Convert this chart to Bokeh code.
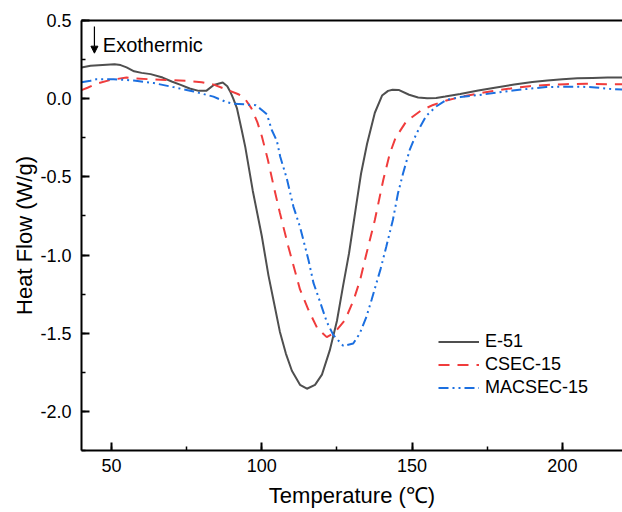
from bokeh.plotting import figure
from bokeh.models import (Range1d, LinearAxis, FixedTicker, SingleIntervalTicker,
                          PrintfTickFormatter, Legend, LegendItem, Arrow, NormalHead, Label)
from bokeh.embed import file_html
from bokeh.resources import INLINE

# ---------------- data ----------------
e51_x = [40, 43, 47, 51, 53, 55, 57.5, 60, 63, 67, 70, 73, 76, 79, 81.5, 84, 87, 88.5, 89.5,
         90.5, 91.7, 93.3, 94.5, 97, 100, 102.2, 104, 106, 108, 110, 112.7, 115, 117.7, 120,
         122.6, 125, 127, 129, 131.5, 133, 135, 137.6, 140, 142, 143.5, 145.5, 149, 152, 155,
         158, 161, 166, 172, 178, 184, 190, 195, 200, 205, 210, 215, 220]
e51_y = [0.20, 0.21, 0.215, 0.22, 0.215, 0.20, 0.175, 0.165, 0.157, 0.135, 0.11, 0.088, 0.065,
         0.05, 0.05, 0.088, 0.103, 0.08, 0.045, 0.0, -0.06, -0.2, -0.31, -0.59, -0.88, -1.13,
         -1.30, -1.49, -1.63, -1.74, -1.83, -1.855, -1.83, -1.765, -1.61, -1.42, -1.20, -0.99,
         -0.67, -0.48, -0.29, -0.09, 0.02, 0.05, 0.057, 0.056, 0.025, 0.008, 0.003, 0.005,
         0.014, 0.03, 0.052, 0.072, 0.09, 0.106, 0.117, 0.125, 0.13, 0.133, 0.135, 0.135]

csec_x = [40, 42, 45, 49.6, 55, 58, 62, 68, 75, 80, 84, 88, 92, 94, 96.5, 98.5, 100, 102, 104,
          106, 108.8, 111, 112.7, 115.5, 118.5, 121.6, 124, 127.7, 130.5, 132.7, 134.7, 137.6,
          140.4, 142.6, 144.5, 148, 153, 157, 161.4, 167, 172.4, 178, 183.5, 189, 194.7, 201,
          208, 215, 220]
csec_y = [0.055, 0.07, 0.095, 0.12, 0.135, 0.13, 0.125, 0.12, 0.114, 0.105, 0.09, 0.06, 0.03,
          0.01, -0.06, -0.15, -0.24, -0.39, -0.565, -0.73, -0.945, -1.10, -1.22, -1.35, -1.47,
          -1.525, -1.50, -1.415, -1.29, -1.16, -1.0, -0.776, -0.52, -0.35, -0.25, -0.147,
          -0.075, -0.04, -0.012, 0.015, 0.035, 0.052, 0.067, 0.08, 0.088, 0.093, 0.095, 0.093,
          0.092]

mac_x = [40, 43, 45, 50.7, 57.4, 64, 70.6, 77.3, 83.9, 88, 90.6, 94, 98, 100.5, 101.7, 103.3,
         105, 106.1, 108.3, 110.5, 112.7, 115.5, 117.2, 118.8, 121.6, 123.8, 127.1, 130.4,
         132.6, 134.8, 136.5, 138.1, 139.5, 141.4, 143.6, 145.3, 147, 149.2, 151.4, 154.7, 158,
         161.4, 166, 172.4, 178, 183.5, 189, 194.6, 200, 205.6, 211, 215.6, 220]
mac_y = [0.105, 0.115, 0.125, 0.125, 0.116, 0.10, 0.074, 0.046, 0.013, -0.02, -0.033, -0.036,
         -0.042, -0.08, -0.1, -0.2, -0.27, -0.37, -0.51, -0.69, -0.82, -1.03, -1.18, -1.267,
         -1.427, -1.512, -1.581, -1.566, -1.501, -1.395, -1.288, -1.181, -1.09, -0.947, -0.776,
         -0.605, -0.477, -0.328, -0.225, -0.11, -0.05, -0.008, 0.01, 0.024, 0.038, 0.052,
         0.064, 0.074, 0.077, 0.077, 0.072, 0.063, 0.058]

series_names = ["E-51", "CSEC-15", "MACSEC-15"]
x_title = "Temperature (\u2103)"
y_title = "Heat Flow (W/g)"
note_text = "Exothermic"

FONT = "Liberation Sans"

p = figure(width=622, height=512, output_backend="svg", toolbar_location=None,
           x_range=Range1d(40, 220), y_range=Range1d(-2.25, 0.5),
           min_border_left=81, min_border_top=20, min_border_bottom=62, min_border_right=0)
p.outline_line_color = None
p.xgrid.visible = False
p.ygrid.visible = False
p.background_fill_color = "white"

r1 = p.line(e51_x, e51_y, line_color="#4f4f4f", line_width=2)
r2 = p.line(csec_x, csec_y, line_color="#f03c3c", line_width=2, line_dash="11 8")
r3 = p.line(mac_x, mac_y, line_color="#1b6fe0", line_width=2, line_dash="10 4 2 4 2 4")

for ax in (p.xaxis[0], p.yaxis[0]):
    ax.axis_line_width = 2
    ax.axis_line_color = "black"
    ax.major_tick_in = 8
    ax.major_tick_out = 0
    ax.minor_tick_in = 4
    ax.minor_tick_out = 0
    ax.major_tick_line_width = 2
    ax.minor_tick_line_width = 1.5
    ax.major_tick_line_color = "black"
    ax.minor_tick_line_color = "black"
    ax.major_label_text_font = FONT
    ax.major_label_text_font_size = "18px"
    ax.major_label_text_color = "black"
    ax.axis_label_text_font = FONT
    ax.axis_label_text_font_size = "22px"
    ax.axis_label_text_font_style = "normal"
    ax.axis_label_text_color = "black"

p.xaxis[0].ticker = SingleIntervalTicker(interval=50, num_minor_ticks=2)
p.yaxis[0].ticker = SingleIntervalTicker(interval=0.5, num_minor_ticks=2)
p.yaxis[0].formatter = PrintfTickFormatter(format="%.1f")
p.xaxis[0].axis_label = x_title
p.yaxis[0].axis_label = y_title
p.xaxis[0].major_label_standoff = 8
p.xaxis[0].axis_label_standoff = 8
p.yaxis[0].major_label_standoff = 10
p.yaxis[0].axis_label_standoff = 0

top_axis = LinearAxis(ticker=FixedTicker(ticks=[]), major_label_text_font_size="0px",
                      axis_line_width=2, axis_line_color="black",
                      major_tick_in=0, major_tick_out=0, minor_tick_in=0, minor_tick_out=0,
                      major_label_standoff=0)
p.add_layout(top_axis, "above")

legend = Legend(items=[LegendItem(label=series_names[0], renderers=[r1]),
                       LegendItem(label=series_names[1], renderers=[r2]),
                       LegendItem(label=series_names[2], renderers=[r3])],
                location=(357, 52), margin=0, padding=0, spacing=2,
                glyph_width=41, glyph_height=21, label_height=21, label_standoff=6,
                label_text_font=FONT, label_text_font_size="18px", label_text_color="black",
                background_fill_alpha=0, border_line_color=None)
p.add_layout(legend, "center")

arrow = Arrow(end=NormalHead(size=7, fill_color="black", line_color="black"),
              x_start=44.3, y_start=0.462, x_end=44.3, y_end=0.291,
              line_width=1.2, line_color="black")
p.add_layout(arrow)
p.add_layout(Label(x=47.1, y=0.343, text=note_text, text_font=FONT, text_font_size="20px",
                   text_baseline="alphabetic", text_color="black"))

open("out.html", "w").write(file_html(p, INLINE))
